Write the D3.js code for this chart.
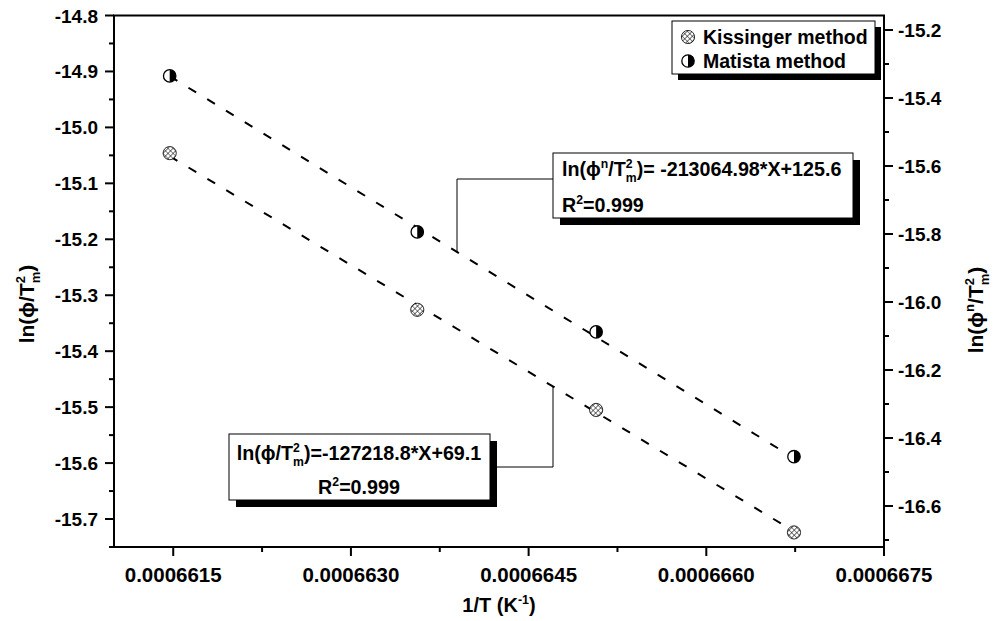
<!DOCTYPE html>
<html>
<head>
<meta charset="utf-8">
<script src="https://cdn.jsdelivr.net/npm/d3@7"></script>
<style>
  body { margin: 0; background: #fff; }
  text { font-family: Arial, "Liberation Sans", sans-serif; font-weight: bold; fill: #000; }
</style>
</head>
<body>
<svg id="chart" width="994" height="621"></svg>
<script>
// Inverse peak temperature for each heating rate
const invT = [0.00066147, 0.00066356, 0.00066507, 0.00066674];
// ln(phi/Tm^2), Kissinger method (left axis)
const kissinger = [-15.046, -15.326, -15.505, -15.724];
// ln(phi^n/Tm^2), Matista method (right axis)
const matista = [-15.335, -15.794, -16.088, -16.455];

// Linear fits
const kissSlope = -127218.8, kissIntercept = 69.1;
const matSlope = -213064.98, matIntercept = 125.6;

// Tick values
const xTicks = [0.0006615, 0.0006630, 0.0006645, 0.0006660, 0.0006675];
const xMinor = [0.00066225, 0.00066375, 0.00066525, 0.00066675];
const yLeftTicks = [-14.8, -14.9, -15.0, -15.1, -15.2, -15.3, -15.4, -15.5, -15.6, -15.7];
const yLeftMinor = [-14.85, -14.95, -15.05, -15.15, -15.25, -15.35, -15.45, -15.55, -15.65, -15.75];
const yRightTicks = [-15.2, -15.4, -15.6, -15.8, -16.0, -16.2, -16.4, -16.6];
const yRightMinor = [-15.3, -15.5, -15.7, -15.9, -16.1, -16.3, -16.5, -16.7];

const legendLabels = ["Kissinger method", "Matista method"];

const L = 114, R = 884, T = 15.5, B = 547;
const FS = 19;     // tick and legend text
const AFS = 19.7;  // fit annotation text
const PHI = "\u03D5";

const svg = d3.select("#chart");
svg.append("rect").attr("width", 994).attr("height", 621).attr("fill", "#fff");

const x = d3.scaleLinear().domain([0.000661, 0.0006675]).range([L, R]);
const yL = d3.scaleLinear().domain([-15.75, -14.8]).range([B, T]);
const yR = d3.scaleLinear().domain([-16.7206, -15.1574]).range([B, T]);

// hatch pattern for the Kissinger marker
const defs = svg.append("defs");
const pat = defs.append("pattern").attr("id", "hatch")
  .attr("patternUnits", "userSpaceOnUse").attr("width", 3.6).attr("height", 3.6)
  .attr("patternTransform", "rotate(45)");
pat.append("rect").attr("width", 3.6).attr("height", 3.6).attr("fill", "#fff");
pat.append("path").attr("d", "M0,0H3.6M0,0V3.6").attr("stroke", "#000").attr("stroke-width", 1.1);

function hatchMarker(g, cx, cy) {
  g.append("circle").attr("cx", cx).attr("cy", cy).attr("r", 6.6)
    .attr("fill", "url(#hatch)").attr("stroke", "#000").attr("stroke-width", 0.8);
}
function halfMarker(g, cx, cy) {
  const r = 6.2;
  g.append("circle").attr("cx", cx).attr("cy", cy).attr("r", r)
    .attr("fill", "#fff").attr("stroke", "#000").attr("stroke-width", 1.3);
  g.append("path").attr("d", `M${cx},${cy - r}A${r},${r} 0 0 1 ${cx},${cy + r}Z`).attr("fill", "#000");
}

// rich text helper: parts = [[text, kind]], kind: "", "sup", "sub" (sub stacked under previous sup)
function rich(t, parts, fs) {
  let shift = 0, lastSupLen = 0;
  parts.forEach(([s, kind]) => {
    const ts = t.append("tspan").text(s);
    let target = 0;
    if (kind === "sup") { target = -0.42 * fs; ts.attr("font-size", 0.62 * fs); }
    else if (kind === "sub") { target = 0.28 * fs; ts.attr("font-size", 0.62 * fs); ts.attr("dx", -lastSupLen); }
    else ts.attr("font-size", fs);
    ts.attr("dy", target - shift);
    shift = target;
    if (kind === "sup") lastSupLen = ts.node().getComputedTextLength();
  });
}

// fitted lines
const xs = d3.extent(invT);
const lineGen = d3.line().x(d => d[0]).y(d => d[1]);
svg.append("path")
  .attr("d", lineGen(xs.map(v => [x(v), yL(kissSlope * v + kissIntercept)])))
  .attr("stroke", "#000").attr("stroke-width", 2).attr("fill", "none").attr("stroke-dasharray", "9,13");
svg.append("path")
  .attr("d", lineGen(xs.map(v => [x(v), yR(matSlope * v + matIntercept)])))
  .attr("stroke", "#000").attr("stroke-width", 2).attr("fill", "none").attr("stroke-dasharray", "9,13");

// markers
const mk = svg.append("g");
invT.forEach((v, i) => hatchMarker(mk, x(v), yL(kissinger[i])));
invT.forEach((v, i) => halfMarker(mk, x(v), yR(matista[i])));

// frame
svg.append("rect").attr("x", L).attr("y", T).attr("width", R - L).attr("height", B - T)
  .attr("fill", "none").attr("stroke", "#000").attr("stroke-width", 2);

// ticks
const ax = svg.append("g").attr("stroke", "#000").attr("stroke-width", 2);
xTicks.forEach(v => ax.append("line").attr("x1", x(v)).attr("x2", x(v)).attr("y1", B).attr("y2", B + 9));
xMinor.forEach(v => ax.append("line").attr("x1", x(v)).attr("x2", x(v)).attr("y1", B).attr("y2", B + 5));
yLeftTicks.forEach(v => ax.append("line").attr("x1", L - 9).attr("x2", L).attr("y1", yL(v)).attr("y2", yL(v)));
yLeftMinor.forEach(v => ax.append("line").attr("x1", L - 5).attr("x2", L).attr("y1", yL(v)).attr("y2", yL(v)));
yRightTicks.forEach(v => ax.append("line").attr("x1", R).attr("x2", R + 9).attr("y1", yR(v)).attr("y2", yR(v)));
yRightMinor.forEach(v => ax.append("line").attr("x1", R).attr("x2", R + 5).attr("y1", yR(v)).attr("y2", yR(v)));

// tick labels
const lab = svg.append("g");
xTicks.forEach(v => lab.append("text").attr("x", x(v)).attr("y", 582)
  .attr("text-anchor", "middle").attr("font-size", 20.5).text(v.toFixed(7)));
yLeftTicks.forEach(v => lab.append("text").attr("x", 98).attr("y", yL(v) + 7)
  .attr("text-anchor", "end").attr("font-size", FS).text(v.toFixed(1)));
yRightTicks.forEach(v => lab.append("text").attr("x", 898).attr("y", yR(v) + 7)
  .attr("text-anchor", "start").attr("font-size", FS).text(v.toFixed(1)));

// axis titles
rich(svg.append("text").attr("x", 499).attr("y", 612).attr("text-anchor", "middle"),
  [["1/T (K", ""], ["-1", "sup"], [")", ""]], 20);
rich(svg.append("text").attr("transform", "translate(34,304) rotate(-90)").attr("text-anchor", "middle"),
  [["ln(" + PHI + "/T", ""], ["2", "sup"], ["m", "sub"], [")", ""]], 21);
rich(svg.append("text").attr("transform", "translate(983,310) rotate(-90)").attr("text-anchor", "middle"),
  [["ln(" + PHI, ""], ["n", "sup"], ["/T", ""], ["2", "sup"], ["m", "sub"], [")", ""]], 21);

// legend
const lg = svg.append("g");
lg.append("rect").attr("x", 678).attr("y", 27).attr("width", 203).attr("height", 53).attr("fill", "#000");
lg.append("rect").attr("x", 672).attr("y", 21).attr("width", 203).attr("height", 53)
  .attr("fill", "#fff").attr("stroke", "#000").attr("stroke-width", 1);
hatchMarker(lg, 688, 37);
halfMarker(lg, 688, 61);
legendLabels.forEach((s, i) => lg.append("text").attr("x", 703).attr("y", 44 + i * 24)
  .attr("font-size", 19.5).text(s));

// fit annotation boxes
function box(x0, y0, w, h) {
  svg.append("rect").attr("x", x0 + 7).attr("y", y0 + 7).attr("width", w).attr("height", h).attr("fill", "#000");
  svg.append("rect").attr("x", x0).attr("y", y0).attr("width", w).attr("height", h)
    .attr("fill", "#fff").attr("stroke", "#000").attr("stroke-width", 1);
}
const conn = d3.line();

// Matista fit label
svg.append("path").attr("d", conn([[553, 179], [457, 179], [457, yR(matSlope * x.invert(457) + matIntercept)]]))
  .attr("fill", "none").attr("stroke", "#000").attr("stroke-width", 1);
box(553, 153, 300, 65);
rich(svg.append("text").attr("x", 562).attr("y", 176),
  [["ln(" + PHI, ""], ["n", "sup"], ["/T", ""], ["2", "sup"], ["m", "sub"],
   [")= " + matSlope.toFixed(2) + "*X+" + matIntercept.toFixed(1), ""]], AFS);
rich(svg.append("text").attr("x", 562).attr("y", 212), [["R", ""], ["2", "sup"], ["=0.999", ""]], AFS);

// Kissinger fit label
svg.append("path").attr("d", conn([[490, 467], [553, 467], [553, yL(kissSlope * x.invert(553) + kissIntercept)]]))
  .attr("fill", "none").attr("stroke", "#000").attr("stroke-width", 1);
box(229, 434, 261, 66);
rich(svg.append("text").attr("x", 359).attr("y", 460).attr("text-anchor", "middle"),
  [["ln(" + PHI + "/T", ""], ["2", "sup"], ["m", "sub"],
   [")=" + kissSlope.toFixed(1) + "*X+" + kissIntercept.toFixed(1), ""]], AFS);
rich(svg.append("text").attr("x", 359).attr("y", 494).attr("text-anchor", "middle"),
  [["R", ""], ["2", "sup"], ["=0.999", ""]], AFS);
</script>
</body>
</html>
